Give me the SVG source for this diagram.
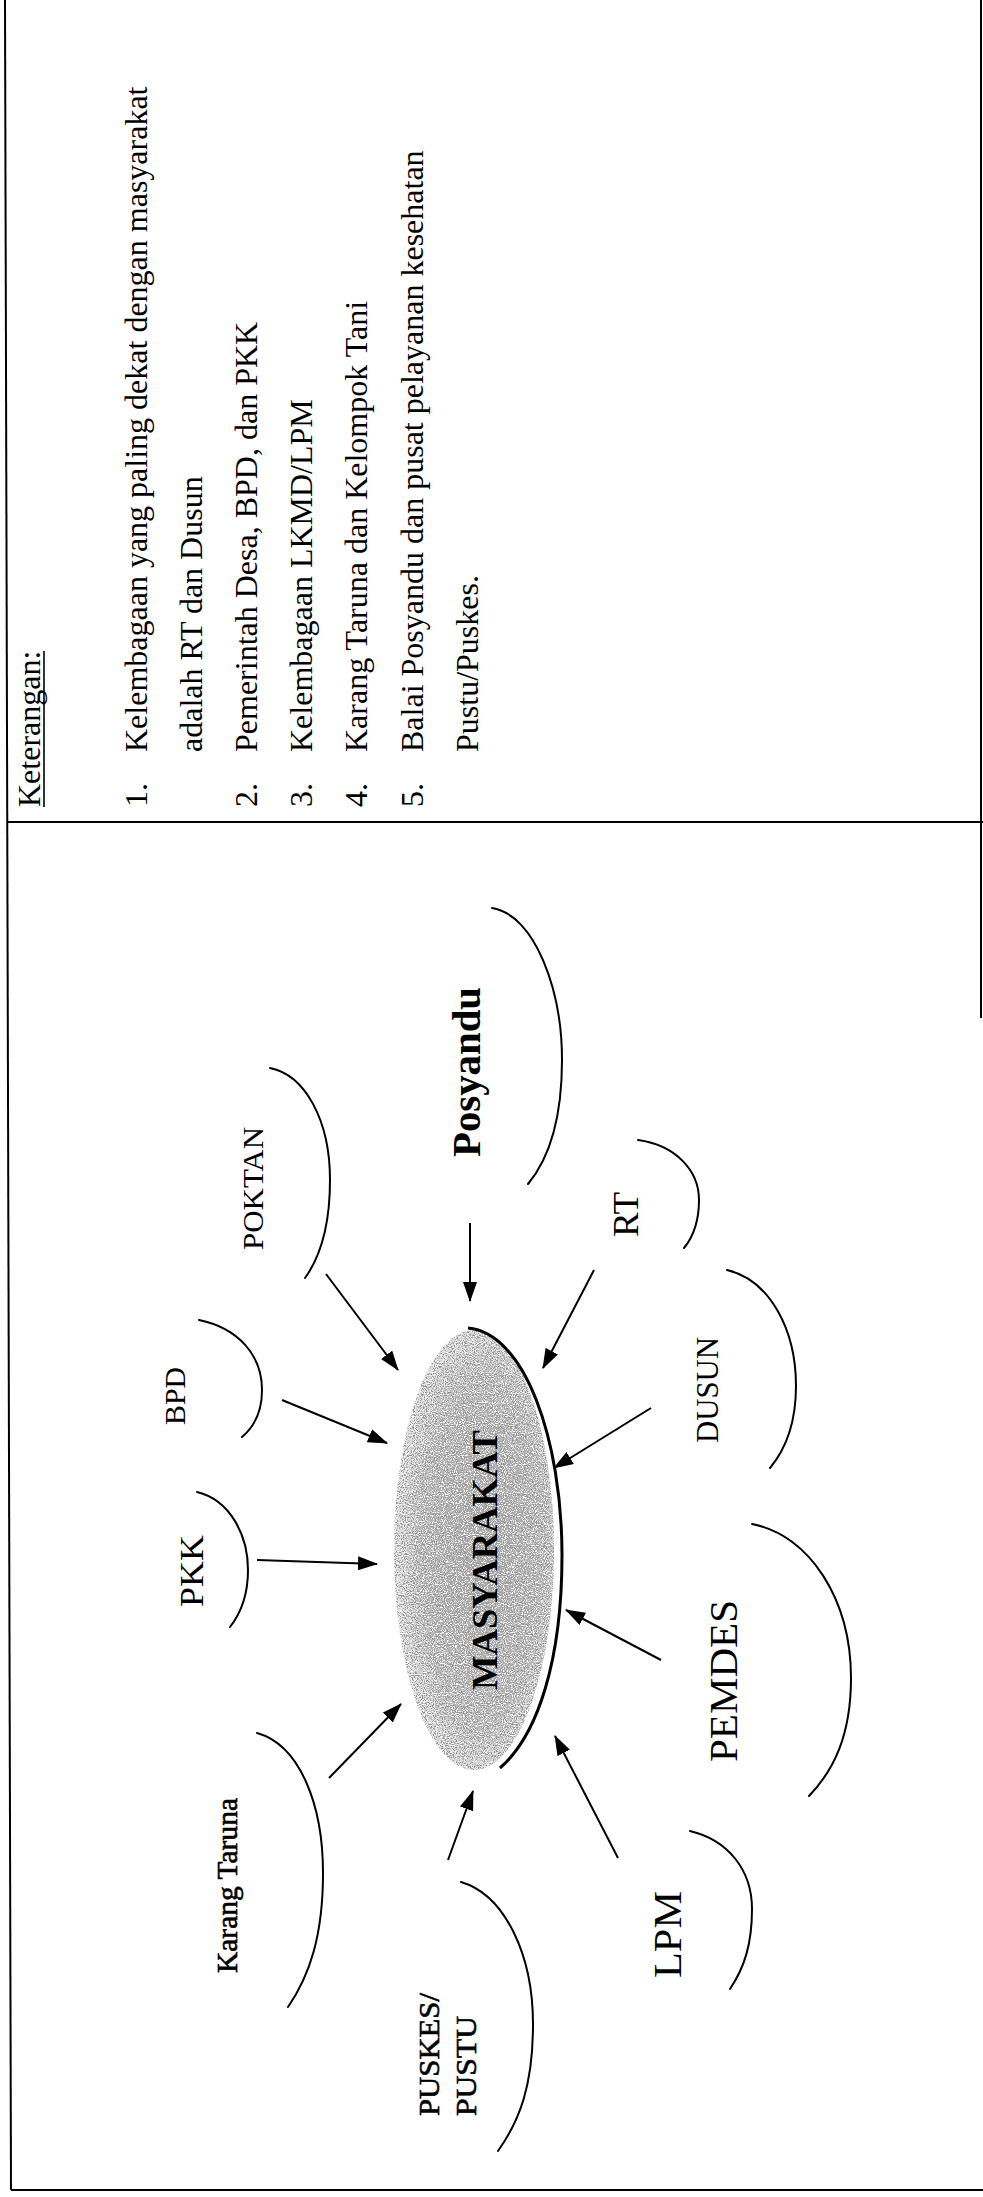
<svg xmlns="http://www.w3.org/2000/svg" width="983" height="2197" viewBox="0 0 983 2197">
<style>
.frame{stroke:#000;stroke-width:2;fill:none}
.lg{font-family:"Liberation Serif","Times New Roman",serif;font-size:32px;fill:#000}
.lbl{font-family:"Liberation Serif","Times New Roman",serif;fill:#000}
.b{font-weight:bold}
.semi{stroke:#000;stroke-width:0.6}
.arc{stroke:#000;stroke-width:2;fill:none;stroke-linecap:round}
.con{stroke:#000;stroke-width:2;fill:none;marker-end:url(#ah)}
</style>
<defs>
<marker id="ah" markerUnits="userSpaceOnUse" markerWidth="20" markerHeight="14" refX="19" refY="7" viewBox="0 0 20 14" orient="auto">
<path d="M0,0 L20,7 L0,14 z" fill="#000"/>
</marker>
<radialGradient id="eg" cx="0.55" cy="0.5" r="0.6">
<stop offset="0" stop-color="#a8a8a8"/>
<stop offset="0.65" stop-color="#bdbdbd"/>
<stop offset="1" stop-color="#efefef"/>
</radialGradient>
<filter id="grain" x="0" y="0" width="1" height="1">
<feTurbulence type="fractalNoise" baseFrequency="0.9" numOctaves="2" seed="7" result="noise"/>
<feColorMatrix in="noise" type="matrix" values="0 0 0 0 0.3  0 0 0 0 0.3  0 0 0 0 0.3  10 0 0 0 -5.3" result="dark"/>
<feColorMatrix in="noise" type="matrix" values="0 0 0 0 1  0 0 0 0 1  0 0 0 0 1  -10 0 0 0 4.5" result="light"/>
<feComposite in="dark" in2="SourceGraphic" operator="in" result="darkc"/>
<feComposite in="light" in2="SourceGraphic" operator="in" result="lightc"/>
<feMerge><feMergeNode in="SourceGraphic"/><feMergeNode in="darkc"/><feMergeNode in="lightc"/></feMerge>
</filter>
</defs>
<rect x="0" y="0" width="983" height="2197" fill="#fff"/>

<g id="frame">
<path class="frame" d="M5,0 L11,2190"/>
<path class="frame" d="M11,2190 L983,2190"/>
<path class="frame" d="M7,822 L983,822"/>
<path class="frame" d="M981,0 L981,1018"/>
</g>

<g id="legend">
<text class="lg" transform="translate(40,807) rotate(-90)">Keterangan:</text>
<line x1="44" y1="807" x2="44" y2="651" stroke="#000" stroke-width="1.6"/>
<text class="lg" transform="translate(147,807) rotate(-90)">1.</text>
<text class="lg" transform="translate(147,752) rotate(-90)">Kelembagaan yang paling dekat dengan masyarakat</text>
<text class="lg" transform="translate(202,752) rotate(-90)">adalah RT dan Dusun</text>
<text class="lg" transform="translate(257,807) rotate(-90)">2.</text>
<text class="lg" transform="translate(257,752) rotate(-90)">Pemerintah Desa, BPD, dan PKK</text>
<text class="lg" transform="translate(312,807) rotate(-90)">3.</text>
<text class="lg" transform="translate(312,752) rotate(-90)">Kelembagaan LKMD/LPM</text>
<text class="lg" transform="translate(367,807) rotate(-90)">4.</text>
<text class="lg" transform="translate(367,752) rotate(-90)">Karang Taruna dan Kelompok Tani</text>
<text class="lg" transform="translate(423,807) rotate(-90)">5.</text>
<text class="lg" transform="translate(423,752) rotate(-90)">Balai Posyandu dan pusat pelayanan kesehatan</text>
<text class="lg" transform="translate(478,752) rotate(-90)">Pustu/Puskes.</text>
</g>

<g id="masyarakat">
<ellipse cx="474" cy="1550" rx="80" ry="220" fill="url(#eg)" filter="url(#grain)"/>
<path d="M468,1328 C525,1333 562,1440 562,1555 C562,1660 538,1735 500,1768" stroke="#000" stroke-width="3" fill="none"/>
<text class="lbl b" font-size="36" textLength="260" lengthAdjust="spacingAndGlyphs" transform="translate(497,1690) rotate(-90)">MASYARAKAT</text>
</g>

<g id="poktan">
<path class="arc" d="M270,1068 C305,1075 330,1120 330,1180 C330,1230 318,1260 305,1278"/>
<text class="lbl" font-size="30" textLength="123" lengthAdjust="spacingAndGlyphs" transform="translate(263,1250) rotate(-90)">POKTAN</text>
</g>

<g id="posyandu">
<path class="arc" d="M492,908 C535,915 562,990 562,1060 C562,1120 548,1160 528,1184"/>
<text class="lbl b" font-size="40" textLength="170" lengthAdjust="spacingAndGlyphs" transform="translate(480,1157) rotate(-90)">Posyandu</text>
</g>

<g id="rt">
<path class="arc" d="M638,1140 C675,1145 699,1170 699,1200 C699,1222 693,1237 684,1248"/>
<text class="lbl" font-size="36" textLength="45" lengthAdjust="spacingAndGlyphs" transform="translate(638,1237) rotate(-90)">RT</text>
</g>

<g id="dusun">
<path class="arc" d="M727,1270 C770,1280 796,1330 796,1386 C796,1425 785,1450 770,1468"/>
<text class="lbl" font-size="32" textLength="106" lengthAdjust="spacingAndGlyphs" transform="translate(718,1443) rotate(-90)">DUSUN</text>
</g>

<g id="bpd">
<path class="arc" d="M199,1320 C238,1328 262,1355 262,1390 C262,1412 254,1427 242,1437"/>
<text class="lbl" font-size="29" textLength="58" lengthAdjust="spacingAndGlyphs" transform="translate(185,1425) rotate(-90)">BPD</text>
</g>

<g id="pkk">
<path class="arc" d="M197,1492 C230,1500 248,1535 248,1570 C248,1595 241,1613 230,1627"/>
<text class="lbl" font-size="34" textLength="72" lengthAdjust="spacingAndGlyphs" transform="translate(203,1607) rotate(-90)">PKK</text>
</g>

<g id="karang-taruna">
<path class="arc" d="M257,1733 C300,1745 323,1805 323,1873 C323,1935 310,1975 288,2007"/>
<text class="lbl semi" font-size="29" textLength="175" lengthAdjust="spacingAndGlyphs" transform="translate(237,1973) rotate(-90)">Karang Taruna</text>
</g>

<g id="puskes-pustu">
<path class="arc" d="M461,1882 C505,1895 533,1955 533,2024 C533,2085 520,2120 498,2151"/>
<text class="lbl semi" font-size="29" textLength="123" lengthAdjust="spacingAndGlyphs" transform="translate(439,2116) rotate(-90)">PUSKES/</text>
<text class="lbl semi" font-size="29" textLength="100" lengthAdjust="spacingAndGlyphs" transform="translate(476,2116) rotate(-90)">PUSTU</text>
</g>

<g id="lpm">
<path class="arc" d="M690,1831 C728,1840 752,1870 752,1909 C752,1945 744,1968 730,1989"/>
<text class="lbl" font-size="40" textLength="87" lengthAdjust="spacingAndGlyphs" transform="translate(681,1978) rotate(-90)">LPM</text>
</g>

<g id="pemdes">
<path class="arc" d="M752,1524 C810,1535 851,1600 851,1678 C851,1735 834,1770 809,1796"/>
<text class="lbl" font-size="40" textLength="162" lengthAdjust="spacingAndGlyphs" transform="translate(737,1762) rotate(-90)">PEMDES</text>
</g>

<g id="connectors">
<line class="con" x1="326" y1="1274" x2="398" y2="1370"/>
<line class="con" x1="470" y1="1223" x2="470" y2="1301"/>
<line class="con" x1="594" y1="1270" x2="543" y2="1368"/>
<line class="con" x1="651" y1="1408" x2="554" y2="1468"/>
<line class="con" x1="282" y1="1400" x2="387" y2="1443"/>
<line class="con" x1="257" y1="1560" x2="377" y2="1564"/>
<line class="con" x1="329" y1="1778" x2="401" y2="1704"/>
<line class="con" x1="448" y1="1860" x2="473" y2="1791"/>
<line class="con" x1="618" y1="1858" x2="555" y2="1736"/>
<line class="con" x1="661" y1="1660" x2="566" y2="1610"/>
</g>
</svg>
